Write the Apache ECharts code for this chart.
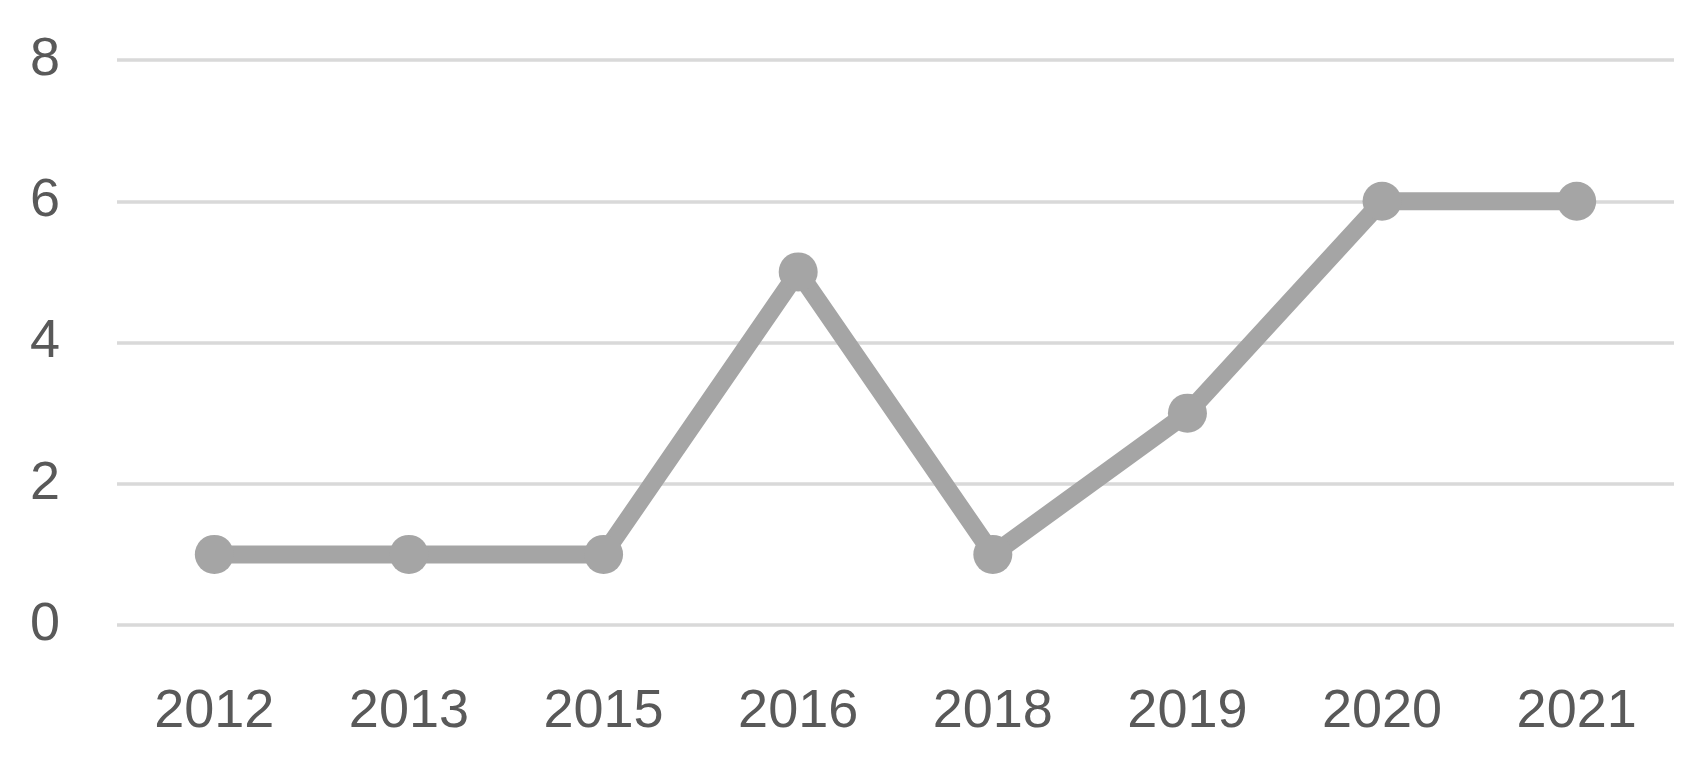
<!DOCTYPE html>
<html>
<head>
<meta charset="utf-8">
<script src="https://cdn.jsdelivr.net/npm/echarts@6/dist/echarts.min.js"></script>
<style>html,body{margin:0;padding:0;background:#fff;}#c{width:1696px;height:769px;}</style>
</head>
<body>
<div id="c"></div>
<script>
const categories = ['2012', '2013', '2015', '2016', '2018', '2019', '2020', '2021'];
const values = [1, 1, 1, 5, 1, 3, 6, 6];
const yTicks = [0, 2, 4, 6, 8];

const chart = echarts.init(document.getElementById('c'));
chart.setOption({
  animation: false,
  backgroundColor: '#ffffff',
  grid: { left: 117, right: 22, top: 60, bottom: 144 },
  xAxis: {
    type: 'category',
    data: categories,
    boundaryGap: true,
    axisLine: { show: false },
    axisTick: { show: false },
    axisLabel: { color: '#595959', fontSize: 54, fontFamily: 'Liberation Sans', margin: 60 }
  },
  yAxis: {
    type: 'value',
    min: yTicks[0],
    max: yTicks[yTicks.length - 1],
    interval: 2,
    axisLine: { show: false },
    axisTick: { show: false },
    axisLabel: { color: '#595959', fontSize: 54, fontFamily: 'Liberation Sans', margin: 57 },
    splitLine: { lineStyle: { color: '#d9d9d9', width: 3.5 } }
  },
  series: [{
    type: 'line',
    data: values,
    symbol: 'circle',
    symbolSize: 39,
    lineStyle: { color: '#a5a5a5', width: 18 },
    itemStyle: { color: '#a5a5a5' }
  }]
});
</script>
</body>
</html>
